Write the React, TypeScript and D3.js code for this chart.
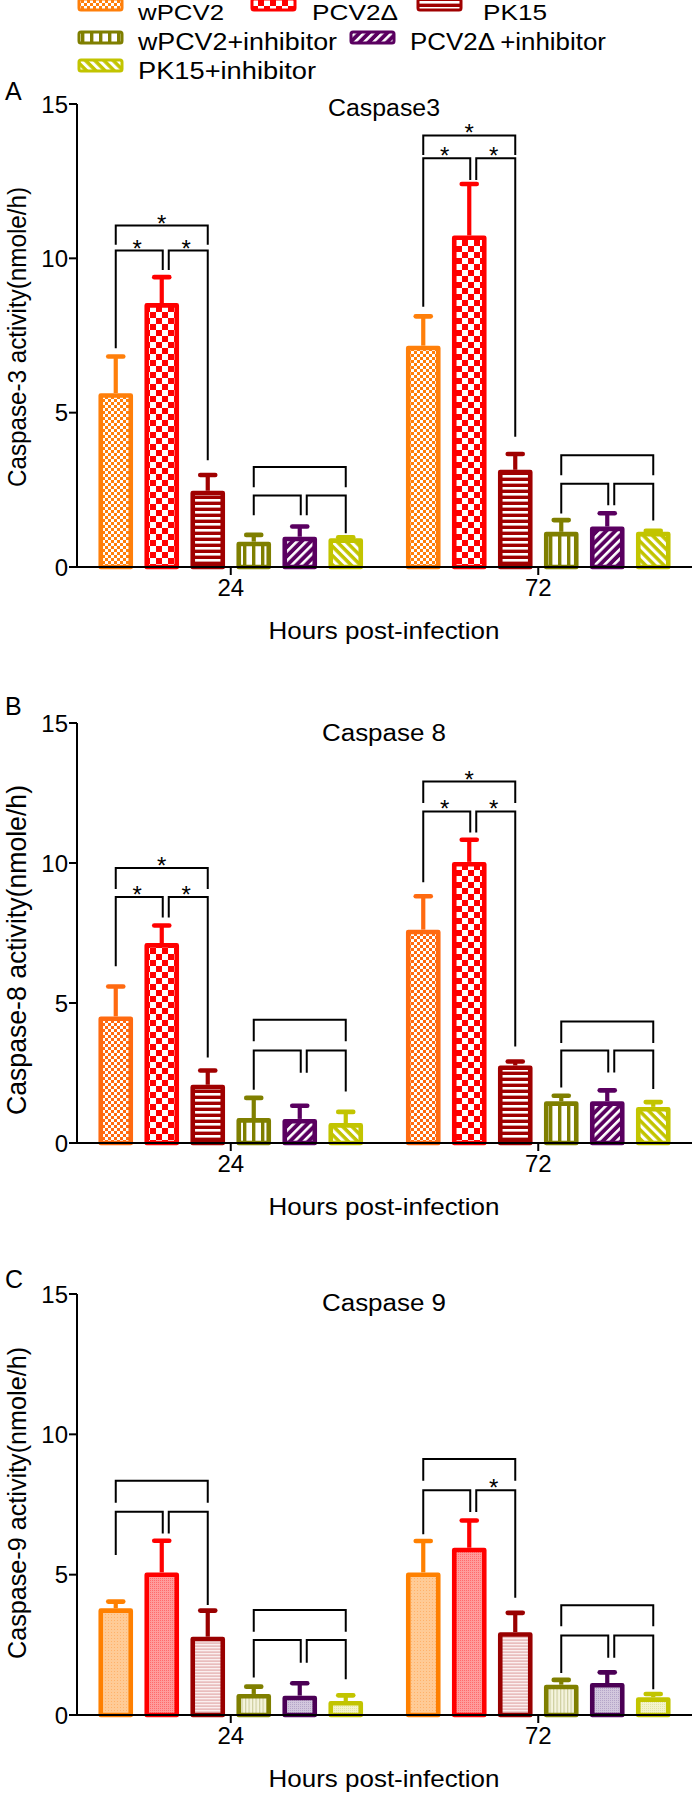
import React from "react";
import * as d3 from "d3";

// ---------- data ----------
const groups = ["24", "72"];
const seriesNames = ["wPCV2", "PCV2Δ", "PK15", "wPCV2+inhibitor", "PCV2Δ+inhibitor", "PK15+inhibitor"];
const legendLabels = ["wPCV2", "PCV2Δ", "PK15", "wPCV2+inhibitor", "PCV2Δ\u2009+inhibitor", "PK15+inhibitor"];
const yTicks = [0, 5, 10, 15];

// Caspase 3 (mean, SEM)
const casp3Mean24 = [5.63, 8.55, 2.47, 0.82, 0.98, 0.93];
const casp3Err24 = [1.19, 0.84, 0.51, 0.22, 0.33, 0.03];
const casp3Mean72 = [7.17, 10.74, 3.15, 1.14, 1.31, 1.14];
const casp3Err72 = [0.95, 1.67, 0.51, 0.38, 0.43, 0.03];
// Caspase 8
const casp8Mean24 = [4.52, 7.14, 2.08, 0.89, 0.86, 0.71];
const casp8Err24 = [1.07, 0.63, 0.51, 0.72, 0.47, 0.4];
const casp8Mean72 = [7.62, 10.04, 2.77, 1.49, 1.49, 1.29];
const casp8Err72 = [1.19, 0.79, 0.14, 0.2, 0.39, 0.17];
// Caspase 9
const casp9Mean24 = [3.8, 5.08, 2.79, 0.75, 0.69, 0.5];
const casp9Err24 = [0.24, 1.13, 0.93, 0.26, 0.44, 0.2];
const casp9Mean72 = [5.08, 5.96, 2.95, 1.08, 1.14, 0.63];
const casp9Err72 = [1.12, 0.97, 0.69, 0.17, 0.38, 0.12];

// significance brackets: [group, from, to, level, leftEnd, rightEnd, star]
const casp3Brackets = [
  [0, 0, 2, 11.06, 10.44, 10.44, 1],
  [0, 0, 1, 10.25, 7.09, 9.62, 1],
  [0, 1, 2, 10.25, 9.62, 3.46, 1],
  [0, 3, 5, 3.24, 2.58, 2.58, 0],
  [0, 3, 4, 2.32, 1.68, 1.68, 0],
  [0, 4, 5, 2.32, 1.68, 1.09, 0],
  [1, 0, 2, 13.98, 13.35, 13.35, 1],
  [1, 0, 1, 13.24, 8.43, 12.54, 1],
  [1, 1, 2, 13.24, 12.54, 4.22, 1],
  [1, 3, 5, 3.62, 2.97, 2.97, 0],
  [1, 3, 4, 2.7, 1.73, 2.0, 0],
  [1, 4, 5, 2.7, 2.0, 1.51, 0],
];
const casp8Brackets = [
  [0, 0, 2, 9.82, 9.07, 9.07, 1],
  [0, 0, 1, 8.79, 6.31, 8.05, 1],
  [0, 1, 2, 8.79, 8.05, 3.05, 1],
  [0, 3, 5, 4.4, 3.63, 3.63, 0],
  [0, 3, 4, 3.3, 1.9, 2.51, 0],
  [0, 4, 5, 3.3, 2.51, 1.84, 0],
  [1, 0, 2, 12.91, 12.14, 12.14, 1],
  [1, 0, 1, 11.84, 9.31, 11.09, 1],
  [1, 1, 2, 11.84, 11.09, 3.45, 1],
  [1, 3, 5, 4.34, 3.57, 3.57, 0],
  [1, 3, 4, 3.3, 1.98, 2.52, 0],
  [1, 4, 5, 3.3, 2.52, 1.93, 0],
];
const casp9Brackets = [
  [0, 0, 2, 8.35, 7.56, 7.56, 0],
  [0, 0, 1, 7.24, 5.7, 6.47, 0],
  [0, 1, 2, 7.24, 6.47, 3.92, 0],
  [0, 3, 5, 3.74, 2.97, 2.97, 0],
  [0, 3, 4, 2.67, 1.34, 1.86, 0],
  [0, 4, 5, 2.67, 1.86, 1.27, 0],
  [1, 0, 2, 9.12, 8.35, 8.35, 0],
  [1, 0, 1, 8.01, 6.44, 7.23, 0],
  [1, 1, 2, 8.01, 7.23, 4.18, 1],
  [1, 3, 5, 3.91, 3.16, 3.16, 0],
  [1, 3, 4, 2.83, 1.5, 2.04, 0],
  [1, 4, 5, 2.83, 2.04, 0.92, 0],
];

// ---------- style ----------
const FONT = "'Liberation Sans', Arial, sans-serif";
const colorsAB = ["#FF7F0A", "#FF0000", "#A00000", "#7F7F00", "#5A0060", "#C2C400"];
const colorsB = ["#FF6A10", "#FF0000", "#A00000", "#7F7F00", "#5A0060", "#C2C400"];
const colorsC = ["#FF8000", "#FF0000", "#990000", "#7F7F00", "#4B0055", "#C2C400"];

const panels = [
  {
    key: "A", letter: "A", letterY: 100, title: "Caspase3", titleY: 116, titleLen: 112,
    yLabel: "Caspase-3 activity(nmole/h)", yLabelLen: 300, yLabelMid: 337, yLabelSize: 24.2,
    top: 104, bottom: 567, means: [casp3Mean24, casp3Mean72], errs: [casp3Err24, casp3Err72],
    brackets: casp3Brackets, style: "bold", colors: colorsAB,
  },
  {
    key: "B", letter: "B", letterY: 715, title: "Caspase 8", titleY: 741, titleLen: 124,
    yLabel: "Caspase-8 activity(nmole/h)", yLabelLen: 330, yLabelMid: 950, yLabelSize: 26.6,
    top: 723, bottom: 1143, means: [casp8Mean24, casp8Mean72], errs: [casp8Err24, casp8Err72],
    brackets: casp8Brackets, style: "bold", colors: colorsB,
  },
  {
    key: "C", letter: "C", letterY: 1288, title: "Caspase 9", titleY: 1311, titleLen: 124,
    yLabel: "Caspase-9 activity(nmole/h)", yLabelLen: 312, yLabelMid: 1503, yLabelSize: 25.2,
    top: 1294, bottom: 1715, means: [casp9Mean24, casp9Mean72], errs: [casp9Err24, casp9Err72],
    brackets: casp9Brackets, style: "light", colors: colorsC,
  },
];

const X0 = 77;
const X1 = 692;

function BoldPatterns({ prefix, colors }: { prefix: string; colors: string[] }) {
  return (
    <>
      <pattern id={`${prefix}0`} patternUnits="userSpaceOnUse" width={6} height={6}>
        <rect width={6} height={6} fill={colors[0]} />
        <rect width={3} height={3} fill="#fff" />
        <rect x={3} y={3} width={3} height={3} fill="#fff" />
      </pattern>
      <pattern id={`${prefix}1`} patternUnits="userSpaceOnUse" width={12} height={12}>
        <rect width={12} height={12} fill={colors[1]} />
        <rect width={6} height={6} fill="#fff" />
        <rect x={6} y={6} width={6} height={6} fill="#fff" />
      </pattern>
      <pattern id={`${prefix}2`} patternUnits="userSpaceOnUse" width={6} height={6}>
        <rect width={6} height={6} fill={colors[2]} />
        <rect y={1} width={6} height={2.6} fill="#fff" />
      </pattern>
      <pattern id={`${prefix}3`} patternUnits="userSpaceOnUse" width={9} height={9}>
        <rect width={9} height={9} fill="#fff" />
        <rect x={0} width={3.4} height={9} fill={colors[3]} />
      </pattern>
      <pattern id={`${prefix}4`} patternUnits="userSpaceOnUse" width={6.5} height={6.5} patternTransform="rotate(45)">
        <rect width={6.5} height={6.5} fill={colors[4]} />
        <rect width={2.6} height={6.5} fill="#fff" />
      </pattern>
      <pattern id={`${prefix}5`} patternUnits="userSpaceOnUse" width={6.5} height={6.5} patternTransform="rotate(-45)">
        <rect width={6.5} height={6.5} fill={colors[5]} />
        <rect width={3} height={6.5} fill="#fff" />
      </pattern>
    </>
  );
}

function LightPatterns({ prefix }: { prefix: string }) {
  return (
    <>
      <pattern id={`${prefix}0`} patternUnits="userSpaceOnUse" width={3} height={3}>
        <rect width={3} height={3} fill="#FFCB96" />
        <rect width={1} height={1} fill="#FFB26A" />
      </pattern>
      <pattern id={`${prefix}1`} patternUnits="userSpaceOnUse" width={2} height={2}>
        <rect width={2} height={2} fill="#FF9C9C" />
        <rect width={1} height={1} fill="#FF6B6B" />
      </pattern>
      <pattern id={`${prefix}2`} patternUnits="userSpaceOnUse" width={3} height={3}>
        <rect width={3} height={3} fill="#E9BDBD" />
        <rect width={3} height={1.3} fill="#FBEFEF" />
      </pattern>
      <pattern id={`${prefix}3`} patternUnits="userSpaceOnUse" width={3.5} height={3.5}>
        <rect width={3.5} height={3.5} fill="#F5F4DE" />
        <rect width={1.2} height={3.5} fill="#CFCFA0" />
      </pattern>
      <pattern id={`${prefix}4`} patternUnits="userSpaceOnUse" width={2} height={2}>
        <rect width={2} height={2} fill="#D3C8DE" />
        <rect width={1} height={1} fill="#B5A5C8" />
      </pattern>
      <pattern id={`${prefix}5`} patternUnits="userSpaceOnUse" width={2} height={2}>
        <rect width={2} height={2} fill="#F4F4CC" />
        <rect width={1} height={1} fill="#E4E4A6" />
      </pattern>
    </>
  );
}

function Panel({ p }: { p: any }) {
  const y = d3.scaleLinear().domain([0, 15]).range([p.bottom, p.top]);
  const xg = d3.scaleBand<string>().domain(groups).range([X0, X1]);
  const xs = d3.scaleBand<number>().domain(d3.range(seriesNames.length)).range([-138, 138]);
  const barW = 30;
  const sw = 4.6;
  const patPrefix = p.style === "bold" ? `pb${p.key}` : `pl${p.key}`;
  const cx = (g: number, s: number) => (xg(groups[g]) as number) + xg.bandwidth() / 2 + (xs(s) as number) + xs.bandwidth() / 2;
  const gc = (g: number) => (xg(groups[g]) as number) + xg.bandwidth() / 2;

  return (
    <g>
      <text x={5} y={p.letterY} fontSize={25} fontFamily={FONT}>{p.letter}</text>
      <text x={384} y={p.titleY} fontSize={23} fontFamily={FONT} textAnchor="middle"
        textLength={p.titleLen} lengthAdjust="spacingAndGlyphs">{p.title}</text>
      <text transform={`translate(26,${p.yLabelMid}) scale(1.06,1) rotate(-90)`} fontSize={p.yLabelSize}
        fontFamily={FONT} textAnchor="middle" textLength={p.yLabelLen} lengthAdjust="spacingAndGlyphs">{p.yLabel}</text>

      {/* bars */}
      {groups.map((_, g) =>
        p.means[g].map((v: number, s: number) => {
          const c = cx(g, s);
          const top = y(v);
          const capY = y(v + p.errs[g][s]);
          const col = p.colors[s];
          return (
            <g key={`${g}-${s}`}>
              <line x1={c} x2={c} y1={top} y2={capY} stroke={col} strokeWidth={4.2} />
              <line x1={c - 7.5} x2={c + 7.5} y1={capY} y2={capY} stroke={col} strokeWidth={4.6} strokeLinecap="round" />
              <rect x={c - barW / 2} y={top + sw / 2} width={barW} height={Math.max(0, p.bottom - top - sw / 2)}
                fill={`url(#${patPrefix}${s})`} stroke={col} strokeWidth={sw} strokeLinejoin="round" />
            </g>
          );
        })
      )}

      {/* brackets */}
      {p.brackets.map((b: number[], k: number) => {
        const [g, i, j, level, le, re, star] = b;
        const xl = cx(g, i) + (i === 1 || i === 4 ? 7 : 0);
        const xr = cx(g, j) + (j === 1 || j === 4 ? 1 : 0);
        const yl = y(level);
        return (
          <g key={`br${k}`}>
            <path d={`M${xl},${y(le)}V${yl}H${xr}V${y(re)}`} fill="none" stroke="#000" strokeWidth={2} />
            {star ? (
              <text x={(xl + xr) / 2 - (j - i === 2 ? 0 : 2)} y={yl + 6} fontSize={24} fontFamily={FONT} textAnchor="middle">*</text>
            ) : null}
          </g>
        );
      })}

      {/* y axis */}
      <line x1={X0} x2={X0} y1={p.top} y2={p.bottom} stroke="#000" strokeWidth={2} />
      {yTicks.map((t) => (
        <g key={`yt${t}`}>
          <line x1={X0 - 8} x2={X0} y1={y(t)} y2={y(t)} stroke="#000" strokeWidth={2} />
          <text x={68} y={y(t) + 8.5} fontSize={24} fontFamily={FONT} textAnchor="end">{t}</text>
        </g>
      ))}
      {/* x axis */}
      <line x1={X0 - 1} x2={X1} y1={p.bottom} y2={p.bottom} stroke="#000" strokeWidth={2} />
      {groups.map((gname, g) => (
        <g key={`xt${gname}`}>
          <line x1={gc(g)} x2={gc(g)} y1={p.bottom} y2={p.bottom + 8} stroke="#000" strokeWidth={2} />
          <text x={gc(g)} y={p.bottom + 29} fontSize={24} fontFamily={FONT} textAnchor="middle">{gname}</text>
        </g>
      ))}
      <text x={384} y={p.bottom + 72} fontSize={24} fontFamily={FONT} textAnchor="middle"
        textLength={231} lengthAdjust="spacingAndGlyphs">Hours post-infection</text>
    </g>
  );
}

const legendPos = [
  { sx: 79, tx: 138, y: 20, sy: -1, len: 86, fs: 22 },
  { sx: 252, tx: 312, y: 20, sy: -1, len: 86, fs: 22 },
  { sx: 418, tx: 483, y: 20, sy: -1, len: 64, fs: 22 },
  { sx: 79, tx: 138, y: 50, sy: 32, len: 199, fs: 23 },
  { sx: 351, tx: 410, y: 50, sy: 32, len: 196, fs: 23 },
  { sx: 79, tx: 138, y: 79, sy: 60, len: 178, fs: 23 },
];

export default function App() {
  return (
    <svg width={700} height={1801} style={{ position: "absolute", left: 0, top: 0, background: "#fff" }}
      xmlns="http://www.w3.org/2000/svg">
      <defs>
        <BoldPatterns prefix="pbA" colors={colorsAB} />
        <BoldPatterns prefix="pbB" colors={colorsB} />
        <BoldPatterns prefix="pbL" colors={colorsAB} />
        <LightPatterns prefix="plC" />
      </defs>
      <rect width={700} height={1801} fill="#fff" />
      {/* legend */}
      {legendLabels.map((lab, s) => {
        const lp = legendPos[s];
        return (
          <g key={`lg${s}`}>
            <rect x={lp.sx} y={lp.sy} width={43} height={11} rx={2} fill={`url(#pbL${s})`}
              stroke={colorsAB[s]} strokeWidth={3} />
            <text x={lp.tx} y={lp.y} fontSize={lp.fs} fontFamily={FONT}
              textLength={lp.len} lengthAdjust="spacingAndGlyphs">{lab}</text>
          </g>
        );
      })}
      {panels.map((p) => (
        <Panel key={p.key} p={p} />
      ))}
    </svg>
  );
}
